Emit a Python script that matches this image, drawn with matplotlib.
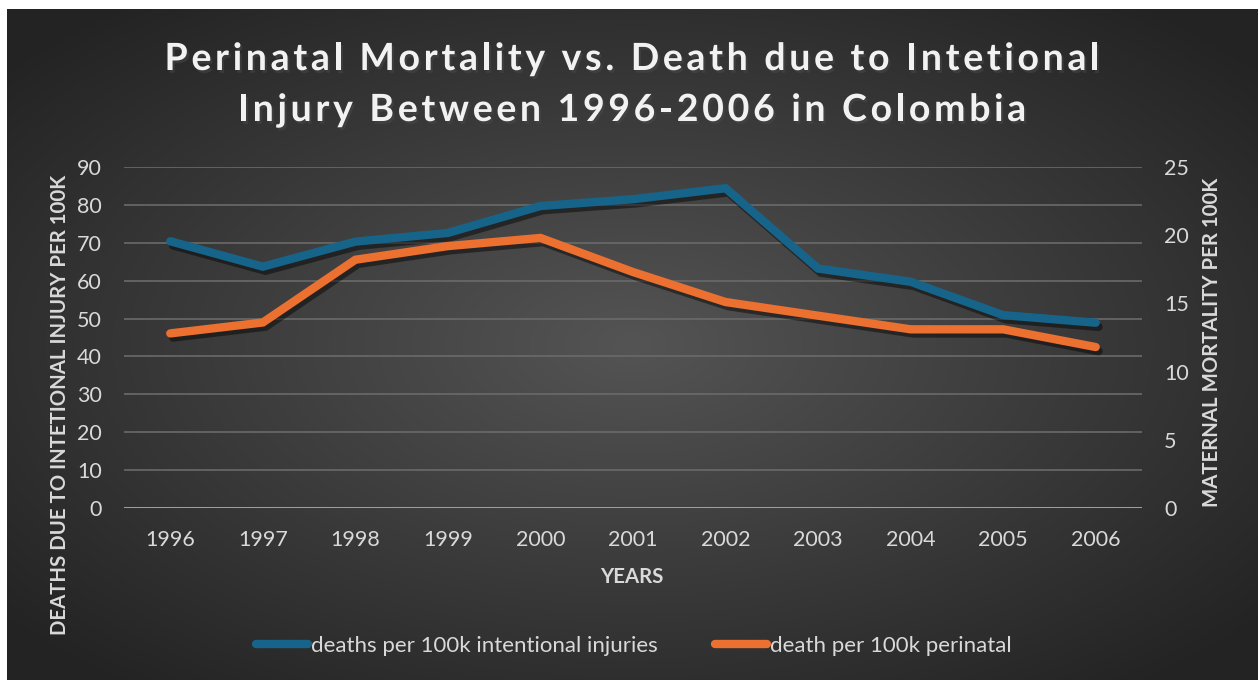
import matplotlib
matplotlib.use("Agg")
import matplotlib.pyplot as plt
import matplotlib.patheffects as pe
from matplotlib.font_manager import FontProperties
import numpy as np

years = ["1996", "1997", "1998", "1999", "2000", "2001", "2002", "2003", "2004", "2005", "2006"]
injury_deaths = [70.4, 63.7, 70.3, 72.6, 79.7, 81.5, 84.4, 63.2, 59.7, 50.9, 48.9]
perinatal_deaths = [12.8, 13.6, 18.2, 19.2, 19.8, 17.3, 15.1, 14.1, 13.1, 13.1, 11.8]
title_lines = ["Perinatal Mortality vs. Death due to Intetional",
               "Injury Between 1996-2006 in Colombia"]

W, H = 1258, 680
fig = plt.figure(figsize=(W / 100, H / 100), dpi=100, facecolor="white")

# dark radial gradient panel, leaving a thin white margin top/left
bg = fig.add_axes([7 / W, 0, 1 - 7 / W, 1 - 9 / H])
yy, xx = np.mgrid[0:1:300j, 0:1:560j]
r = np.sqrt(((xx - 0.5) / 0.75) ** 2 + ((yy - 0.5) / 0.75) ** 2)
shade = np.clip(0.33 - 0.22 * r, 0.14, 0.33)
bg.imshow(np.dstack([shade] * 3), aspect="auto", extent=[0, 1, 0, 1])
bg.set_axis_off()

ax = fig.add_axes([124 / W, 1 - 508 / H, (1142 - 124) / W, (508 - 167) / H])
ax.patch.set_alpha(0)
ax2 = ax.twinx()

x = np.arange(len(years))
shadow = [pe.SimpleLineShadow(offset=(2, -3), alpha=0.45, shadow_color="black"), pe.Normal()]
ax.plot(x, injury_deaths, color="#17648a", lw=6, solid_capstyle="round",
        solid_joinstyle="miter", path_effects=shadow, zorder=3)
ax2.plot(x, perinatal_deaths, color="#ec7030", lw=6, solid_capstyle="round",
         solid_joinstyle="miter", path_effects=shadow, zorder=3)

ax.set_xlim(-0.5, 10.5)
ax.set_ylim(0, 90)
ax2.set_ylim(0, 25)
ax.set_yticks(range(0, 91, 10))
ax2.set_yticks(range(0, 26, 5))
ax.set_xticks(x)
ax.set_xticklabels(years)

for lab in ax.get_xticklabels() + ax.get_yticklabels() + ax2.get_yticklabels():
    lab.set_fontfamily("Lato")
    lab.set_fontsize(15.5)
    lab.set_color("#d9d9d9")
ax.tick_params(axis="both", length=0)
ax.tick_params(axis="x", pad=16)
ax.tick_params(axis="y", pad=16)
ax2.tick_params(axis="y", length=0, pad=16)

ax.grid(axis="y", color="#6a6a6a", lw=1.2)
ax.set_axisbelow(True)
for a in (ax, ax2):
    for s in a.spines.values():
        s.set_visible(False)
ax.axhline(0, color="#a6a6a6", lw=2, zorder=2)

label_font = dict(family="Lato", weight="bold", size=14.7, color="#d9d9d9")
fig.text(60 / W, 1 - 405 / H, "DEATHS DUE TO INTETIONAL INJURY PER 100K",
         rotation=90, ha="center", va="center", **label_font)
fig.text(1212 / W, 1 - 342 / H, "MATERNAL MORTALITY PER 100K",
         rotation=90, ha="center", va="center", **label_font)
fig.text(632 / W, 1 - 577 / H, "YEARS", ha="center", va="center", **label_font)

# title with widened letter spacing, laid out one character at a time
tprop = FontProperties(family="Lato", weight="bold", size=27)
renderer = fig.canvas.get_renderer()


def text_w(s):
    return renderer.get_text_width_height_descent(s, tprop, ismath=False)[0]


natural = text_w(title_lines[0])
spacing = (935 - natural) / (len(title_lines[0]) - 1)
tshadow = [pe.SimplePatchShadow(offset=(1.5, -2), alpha=0.5), pe.Normal()]
for line, yc in zip(title_lines, [59, 110]):
    total = text_w(line) + spacing * (len(line) - 1)
    x0 = 632 - total / 2
    for i, ch in enumerate(line):
        if ch == " ":
            continue
        xp = x0 + text_w(line[:i]) + spacing * i if i else x0
        fig.text(xp / W, 1 - yc / H, ch, ha="left", va="center",
                 fontproperties=tprop, color="#f2f2f2", path_effects=tshadow)

h1 = plt.Line2D([], [], color="#17648a", lw=6, solid_capstyle="round")
h2 = plt.Line2D([], [], color="#ec7030", lw=6, solid_capstyle="round")
leg = fig.legend([h1, h2], ["deaths per 100k intentional injuries", "death per 100k perinatal"],
                 loc="center", bbox_to_anchor=(634 / W, 1 - 646 / H), ncol=2, frameon=False,
                 handlelength=2.3, handletextpad=0.15, columnspacing=2.6,
                 prop=dict(family="Lato", size=16))
for t in leg.get_texts():
    t.set_color("#d9d9d9")

fig.savefig("out.png", dpi=100, facecolor="white")
